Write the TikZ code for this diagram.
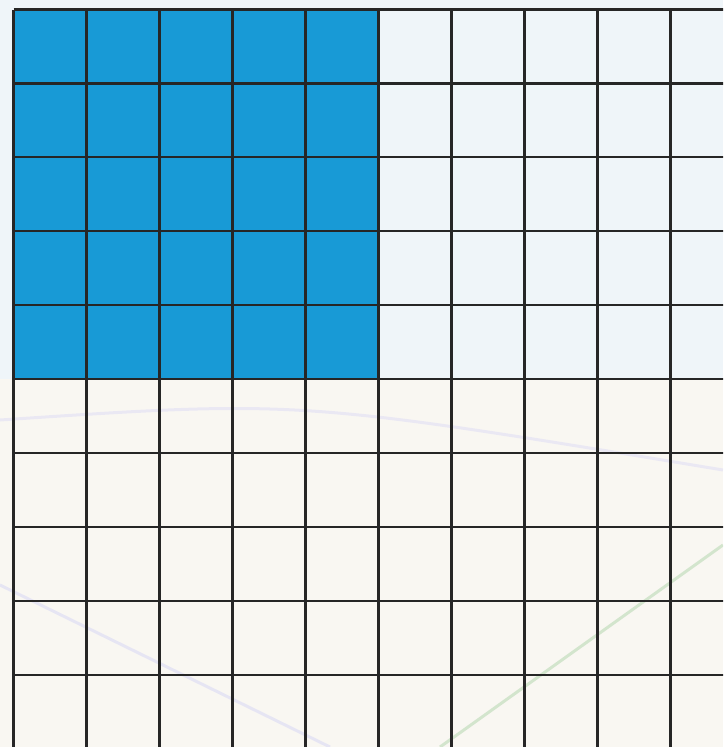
\documentclass[tikz,border=0pt]{standalone}
\usetikzlibrary{positioning}
\definecolor{cellblue}{RGB}{24,154,214}
\definecolor{wallbg}{RGB}{239,245,249}
\definecolor{floorbg}{RGB}{249,247,242}
\tikzset{
  gridline/.style={line width=2.2pt, draw=black!85},
  bluecell/.style={fill=cellblue},
  faintline/.style={line width=3pt, opacity=0.15}
}

\begin{document}
\begin{tikzpicture}[x=1pt, y=-1pt]
  \clip (0,0) rectangle (723,747);
  % backdrop
  \fill[wallbg] (0,0) rectangle (723,379);
  \fill[floorbg] (0,379) rectangle (723,747);
  \draw[faintline, blue!50] (0,585) -- (330,747);
  \draw[faintline, green!50!black] (440,747) -- (723,545);
  \draw[faintline, blue!40] (0,420) .. controls (300,400) .. (723,470);
  % filled part
  \fill[bluecell] (13.5,9.5) rectangle (378.5,379);
  % grid
  \foreach \i in {0,...,10}
    \draw[gridline] ({13.5+73*\i},9.5) -- ({13.5+73*\i},760);
  \foreach \j in {0,...,10}
    \draw[gridline] (13.5,{9.5+73.9*\j}) -- (745,{9.5+73.9*\j});
\end{tikzpicture}
\end{document}
